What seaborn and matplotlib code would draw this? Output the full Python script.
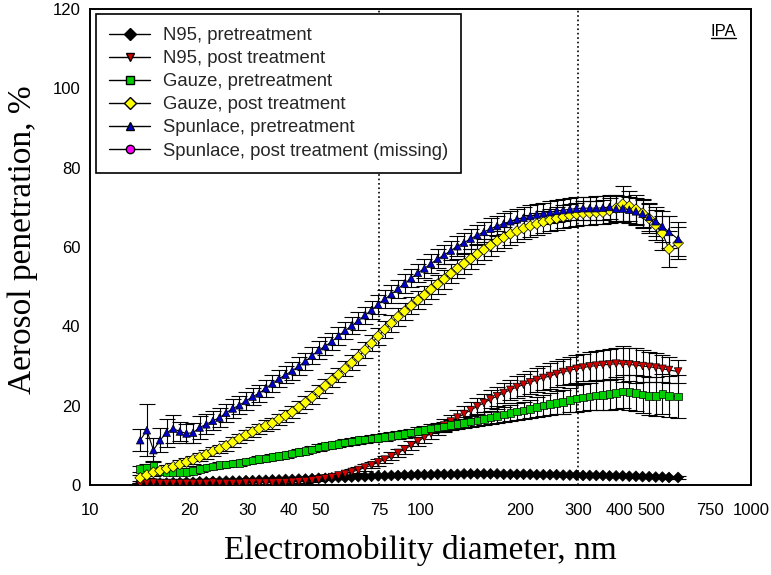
import numpy as np
import pandas as pd
import matplotlib
matplotlib.use("Agg")
import matplotlib.pyplot as plt
from matplotlib.lines import Line2D
from matplotlib.ticker import FixedLocator, NullLocator, MultipleLocator
import seaborn as sns

# particle sizes (nm)
diameter_nm = [14.19, 14.86, 15.56, 16.29, 17.06, 17.86, 18.71, 19.59, 20.51, 21.48,
               22.49, 23.55, 24.66, 25.82, 27.04, 28.31, 29.65, 31.05, 32.51, 34.04,
               35.65, 37.33, 39.08, 40.93, 42.85, 44.87, 46.99, 49.20, 51.52, 53.95,
               56.49, 59.16, 61.94, 64.86, 67.92, 71.12, 74.47, 77.98, 81.66, 85.51,
               89.54, 93.76, 98.17, 102.8, 107.6, 112.7, 118.0, 123.6, 129.4, 135.5,
               141.9, 148.6, 155.6, 162.9, 170.6, 178.6, 187.1, 195.9, 205.1, 214.8,
               224.9, 235.5, 246.6, 258.2, 270.4, 283.1, 296.5, 310.5, 325.1, 340.4,
               356.5, 373.3, 390.8, 409.3, 428.5, 448.7, 469.9, 492.0, 515.2, 539.5,
               564.9, 602.0]

n95_pre = [0.3, 0.35, 0.4, 0.5, 0.5, 0.6, 0.6, 0.7, 0.7, 0.8,
           0.8, 0.9, 0.9, 1.0, 1.0, 1.0, 1.1, 1.1, 1.2, 1.2,
           1.3, 1.3, 1.4, 1.4, 1.5, 1.5, 1.6, 1.7, 1.7, 1.8,
           1.9, 1.9, 2.0, 2.1, 2.1, 2.2, 2.3, 2.3, 2.4, 2.4,
           2.5, 2.5, 2.6, 2.6, 2.6, 2.7, 2.7, 2.7, 2.7, 2.8,
           2.8, 2.8, 2.8, 2.8, 2.8, 2.7, 2.7, 2.7, 2.7, 2.7,
           2.6, 2.6, 2.6, 2.6, 2.5, 2.5, 2.5, 2.4, 2.4, 2.4,
           2.4, 2.3, 2.3, 2.3, 2.2, 2.2, 2.1, 2.1, 2.0, 2.0,
           1.9, 1.9]
n95_pre_err = [0.2, 0.2, 0.2, 0.2, 0.2, 0.2, 0.2, 0.2, 0.2, 0.2,
               0.2, 0.2, 0.2, 0.2, 0.2, 0.2, 0.2, 0.2, 0.2, 0.2,
               0.2, 0.2, 0.2, 0.2, 0.2, 0.2, 0.2, 0.2, 0.2, 0.2,
               0.3, 0.3, 0.3, 0.3, 0.3, 0.3, 0.3, 0.3, 0.3, 0.3,
               0.3, 0.3, 0.3, 0.3, 0.3, 0.3, 0.3, 0.3, 0.3, 0.3,
               0.3, 0.3, 0.3, 0.3, 0.3, 0.3, 0.3, 0.3, 0.3, 0.3,
               0.3, 0.3, 0.3, 0.3, 0.3, 0.3, 0.3, 0.3, 0.3, 0.3,
               0.3, 0.3, 0.3, 0.3, 0.3, 0.3, 0.3, 0.3, 0.3, 0.3,
               0.3, 0.3]

n95_post = [0.2, 0.4, 0.6, 0.5, 0.5, 0.5, 0.5, 0.5, 0.5, 0.5,
            0.5, 0.6, 0.5, 0.5, 0.5, 0.5, 0.6, 0.6, 0.6, 0.6,
            0.6, 0.7, 0.7, 0.8, 0.9, 1.0, 1.2, 1.4, 1.7, 2.0,
            2.4, 2.8, 3.3, 3.8, 4.4, 5.0, 5.7, 6.4, 7.2, 8.1,
            9.0, 10.0, 11.0, 12.0, 13.0, 14.0, 15.0, 16.0, 17.0, 17.9,
            18.9, 19.8, 20.7, 21.6, 22.4, 23.2, 24.0, 24.7, 25.3, 25.9,
            26.5, 27.0, 27.5, 28.0, 28.5, 28.9, 29.3, 29.6, 29.9, 30.1,
            30.3, 30.4, 30.6, 30.5, 30.4, 30.2, 30.0, 29.8, 29.6, 29.3,
            29.0, 28.6]
n95_post_err = [0.2, 0.2, 0.3, 0.2, 0.2, 0.2, 0.2, 0.2, 0.2, 0.2,
                0.2, 0.3, 0.2, 0.2, 0.2, 0.2, 0.3, 0.3, 0.3, 0.3,
                0.3, 0.3, 0.3, 0.4, 0.4, 0.4, 0.4, 0.5, 0.5, 0.5,
                0.6, 0.6, 0.7, 0.7, 0.8, 0.8, 0.9, 0.9, 1.0, 1.0,
                1.1, 1.1, 1.2, 1.3, 1.4, 1.5, 1.6, 1.7, 1.8, 1.9,
                2.0, 2.1, 2.2, 2.3, 2.4, 2.5, 2.6, 2.7, 2.8, 2.9,
                3.0, 3.1, 3.2, 3.3, 3.3, 3.4, 3.5, 3.5, 3.6, 3.6,
                3.7, 3.8, 3.9, 4.5, 4.2, 4.4, 4.0, 3.8, 3.6, 3.4,
                3.2, 3.0]

gauze_pre = [4.0, 4.4, 4.8, 3.6, 3.3, 3.3, 3.3, 3.3, 3.6, 4.1,
             4.4, 4.7, 5.0, 5.2, 5.4, 5.6, 5.9, 6.2, 6.5, 6.7,
             7.0, 7.3, 7.6, 7.9, 8.3, 8.6, 9.0, 9.5, 9.8, 10.1,
             10.4, 10.7, 11.0, 11.3, 11.5, 11.7, 11.9, 12.1, 12.4, 12.6,
             12.9, 13.2, 13.6, 13.9, 14.2, 14.5, 14.8, 15.1, 15.4, 15.7,
             16.0, 16.3, 16.7, 17.0, 17.4, 17.8, 18.2, 18.5, 18.8, 19.2,
             19.6, 20.0, 20.4, 20.7, 21.0, 21.4, 21.8, 22.1, 22.3, 22.6,
             22.7, 22.9, 23.2, 23.6, 23.4, 23.2, 22.8, 22.5, 22.4, 23.0,
             22.4, 22.3]
gauze_pre_err = [0.8, 1.0, 1.2, 0.8, 0.7, 0.7, 0.7, 0.7, 0.7, 0.7,
                 0.7, 0.7, 0.7, 0.7, 0.7, 0.7, 0.7, 0.7, 0.7, 0.7,
                 0.7, 0.7, 0.7, 0.7, 0.7, 0.8, 0.8, 0.8, 0.8, 0.8,
                 0.8, 0.8, 0.8, 0.9, 0.9, 0.9, 0.9, 0.9, 0.9, 1.0,
                 1.0, 1.0, 1.0, 1.1, 1.1, 1.2, 1.2, 1.3, 1.3, 1.4,
                 1.5, 1.5, 1.6, 1.7, 1.8, 1.9, 2.0, 2.1, 2.2, 2.3,
                 2.5, 2.6, 2.7, 2.9, 3.0, 3.1, 3.3, 3.4, 3.5, 3.6,
                 3.8, 3.9, 4.0, 4.2, 4.4, 4.5, 4.6, 4.8, 4.9, 5.0,
                 5.2, 5.5]

gauze_post = [1.8, 2.5, 3.2, 3.6, 4.1, 4.6, 5.2, 5.8, 6.4, 7.0,
              7.7, 8.5, 9.1, 9.9, 10.8, 11.7, 12.6, 13.4, 14.2, 14.9,
              15.6, 16.6, 17.5, 18.4, 19.6, 20.8, 22.1, 23.6, 25.0, 26.4,
              27.8, 29.3, 30.8, 32.3, 34.0, 35.7, 37.5, 39.2, 40.8, 42.4,
              43.8, 45.2, 46.6, 47.9, 49.3, 50.6, 51.9, 53.3, 54.6, 55.8,
              57.0, 58.2, 59.3, 60.4, 61.5, 62.4, 63.3, 64.0, 64.7, 65.3,
              65.8, 66.3, 66.8, 67.2, 67.6, 68.0, 68.3, 68.5, 68.6, 68.7,
              68.8, 69.2, 69.8, 70.8, 70.3, 69.5, 68.5, 67.2, 65.5, 63.5,
              59.5, 61.0]
gauze_post_err = [0.8, 0.8, 0.9, 0.9, 0.9, 1.0, 1.0, 1.0, 1.0, 1.0,
                  1.1, 1.1, 1.1, 1.2, 1.2, 1.2, 1.3, 1.3, 1.3, 1.4,
                  1.4, 1.4, 1.5, 1.5, 1.5, 1.6, 1.6, 1.7, 1.7, 1.8,
                  1.8, 1.9, 1.9, 2.0, 2.0, 2.0, 2.1, 2.1, 2.1, 2.2,
                  2.2, 2.2, 2.3, 2.3, 2.3, 2.4, 2.4, 2.4, 2.5, 2.5,
                  2.5, 2.5, 2.6, 2.6, 2.6, 2.6, 2.7, 2.7, 2.7, 2.7,
                  2.8, 2.8, 2.8, 2.8, 2.9, 2.9, 2.9, 3.0, 3.0, 3.0,
                  3.1, 3.2, 3.4, 4.5, 3.8, 3.6, 3.5, 3.6, 3.8, 4.2,
                  4.5, 4.0]

spunlace_pre = [11.3, 13.8, 8.8, 11.3, 13.2, 14.2, 13.5, 13.0, 13.2, 14.5,
                15.3, 16.2, 17.0, 18.2, 19.3, 20.1, 21.2, 22.3, 23.1, 24.4,
                25.6, 26.8, 27.8, 28.8, 30.0, 31.2, 32.6, 34.0, 35.0, 36.2,
                37.6, 38.9, 40.2, 41.4, 42.8, 44.1, 45.5, 46.9, 48.1, 49.5,
                50.8, 52.1, 53.5, 54.6, 55.8, 57.0, 58.0, 59.1, 60.2, 61.1,
                62.1, 63.0, 63.8, 64.6, 65.3, 65.9, 66.5, 67.0, 67.4, 67.8,
                68.2, 68.5, 68.8, 69.1, 69.3, 69.5, 69.7, 69.8, 69.8, 69.8,
                69.9, 70.1, 69.7, 69.7, 69.4, 69.0, 68.4, 67.6, 66.5, 65.2,
                63.8, 62.0]
spunlace_pre_err = [2.8, 6.5, 3.0, 3.0, 3.5, 3.5, 2.5, 2.5, 2.5, 2.8,
                    2.5, 2.4, 2.4, 2.3, 2.3, 2.3, 2.2, 2.2, 2.2, 2.2,
                    2.2, 2.2, 2.2, 2.2, 2.2, 2.2, 2.2, 2.2, 2.2, 2.2,
                    2.2, 2.2, 2.2, 2.2, 2.2, 2.2, 2.3, 2.3, 2.3, 2.3,
                    2.3, 2.3, 2.3, 2.4, 2.4, 2.4, 2.4, 2.4, 2.5, 2.5,
                    2.5, 2.5, 2.5, 2.6, 2.6, 2.6, 2.6, 2.6, 2.7, 2.7,
                    2.7, 2.7, 2.8, 2.8, 2.8, 2.8, 2.9, 2.9, 2.9, 3.0,
                    3.0, 3.1, 3.1, 3.2, 3.3, 3.4, 3.5, 3.6, 3.7, 3.9,
                    4.0, 4.2]

series_names = ["N95, pretreatment", "N95, post treatment", "Gauze, pretreatment",
                "Gauze, post treatment", "Spunlace, pretreatment",
                "Spunlace, post treatment (missing)"]
series_values = [n95_pre, n95_post, gauze_pre, gauze_post, spunlace_pre, None]
series_errors = [n95_pre_err, n95_post_err, gauze_pre_err, gauze_post_err, spunlace_pre_err, None]
series_colors = ["#000000", "#d40000", "#00d000", "#ffff00", "#0000c8", "#ff00ff"]
series_markers = ["D", "v", "s", "D", "^", "o"]

x_ticks = [10, 20, 30, 40, 50, 75, 100, 200, 300, 400, 500, 750, 1000]

sns.set_style("white")
plt.rcParams["font.family"] = ["Liberation Sans", "DejaVu Sans"]

# long table for seaborn
rows = []
for name, vals in zip(series_names, series_values):
    if vals is None:
        continue
    for d, v in zip(diameter_nm, vals):
        rows.append({"series": name, "diameter": d, "penetration": v})
df = pd.DataFrame(rows)

fig = plt.figure(figsize=(7.71, 5.75), dpi=100)
ax = fig.add_axes([0.1167, 0.1565, 0.8573, 0.8278])
ax.set_xscale("log")

ax.axvline(75, color="k", ls=":", lw=1.2, zorder=1)
ax.axvline(300, color="k", ls=":", lw=1.2, zorder=1)

for name, vals, errs in zip(series_names, series_values, series_errors):
    if vals is None:
        continue
    ax.errorbar(diameter_nm, vals, yerr=errs, fmt="none", ecolor="k",
                elinewidth=0.8, capsize=6, capthick=0.8, zorder=2)

sns.lineplot(data=df, x="diameter", y="penetration", units="series",
             estimator=None, color="k", lw=0.8, ax=ax, zorder=3)

pal = dict(zip(series_names, series_colors))
mk = dict(zip(series_names, series_markers))
used = [n for n, v in zip(series_names, series_values) if v is not None]
sns.scatterplot(data=df, x="diameter", y="penetration", hue="series", style="series",
                hue_order=used, style_order=used,
                palette={n: pal[n] for n in used}, markers={n: mk[n] for n in used},
                s=30, edgecolor="k", linewidth=0.5, legend=False, ax=ax, zorder=4)

ax.set_xlim(10, 1000)
ax.set_ylim(0, 120)
ax.xaxis.set_major_locator(FixedLocator(x_ticks))
ax.xaxis.set_minor_locator(NullLocator())
ax.set_xticklabels([str(t) for t in x_ticks])
ax.yaxis.set_major_locator(MultipleLocator(20))
ax.yaxis.set_minor_locator(MultipleLocator(4))

ax.tick_params(axis="both", which="major", direction="in", length=6, width=1,
               labelsize=12, colors="k")
ax.tick_params(axis="both", which="minor", direction="in", length=4, width=1)
ax.tick_params(axis="x", which="major", pad=13)
ax.tick_params(axis="y", which="major", pad=7)
for sp in ax.spines.values():
    sp.set_visible(True)
    sp.set_color("k")
    sp.set_linewidth(1.4)

ax.set_xlabel("Electromobility diameter, nm", fontfamily="Liberation Serif",
              fontsize=24, labelpad=12, color="k")
ax.set_ylabel("Aerosol penetration, %", fontfamily="Liberation Serif",
              fontsize=24, labelpad=10, color="k")
ax.yaxis.label.set_y(0.515)

handles = [Line2D([], [], color="k", lw=1, marker=m, markerfacecolor=c,
                  markeredgecolor="k", markersize=6)
           for c, m in zip(series_colors, series_markers)]
leg = ax.legend(handles, series_names, loc="upper left", bbox_to_anchor=(0.009, 0.99),
                borderaxespad=0, fontsize=13.3, frameon=True, fancybox=False,
                edgecolor="k", framealpha=1, handlelength=2.2, handletextpad=0.7,
                labelspacing=0.33, borderpad=0.72)
leg.get_frame().set_linewidth(1.2)
leg.set_zorder(10)

ipa = ax.text(0.978, 0.968, "IPA", transform=ax.transAxes, ha="right", va="top",
              fontsize=12, color="k")
fig.canvas.draw()
bb = ipa.get_window_extent().transformed(fig.transFigure.inverted())
fig.add_artist(Line2D([bb.x0, bb.x1], [bb.y0 + 0.002, bb.y0 + 0.002],
                      color="k", lw=1, transform=fig.transFigure))

fig.savefig("out.png", dpi=100)
